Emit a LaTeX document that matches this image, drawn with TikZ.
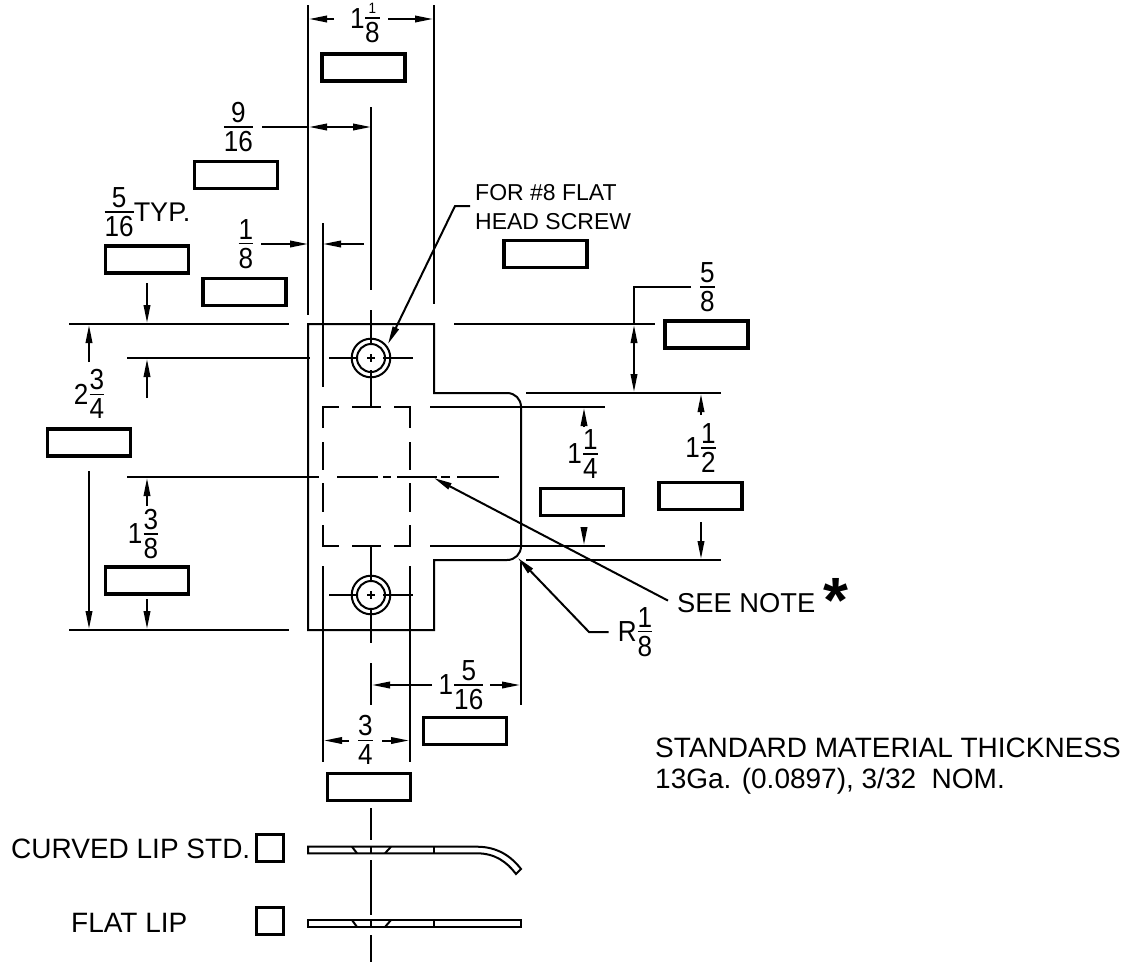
\documentclass[tikz,border=0pt]{standalone}
\usepackage{fontspec}
\setmainfont{Liberation Sans}
\newfontfamily\dimfont[FakeStretch=0.9]{Liberation Sans}
\usetikzlibrary{arrows.meta}
\tikzstyle{blank} = [rectangle, draw=black, line width=3.4pt, minimum width=83pt, minimum height=27pt, inner sep=0pt]
\tikzstyle{tickbox} = [rectangle, draw=black, line width=3.4pt, minimum width=27pt, minimum height=27pt, inner sep=0pt]
\tikzstyle{dimtext} = [inner sep=0pt, font=\fontsize{29}{29}\selectfont\dimfont]
\tikzstyle{plaintext} = [inner sep=0pt, anchor=base west, font=\fontsize{28}{28}\selectfont]
\tikzstyle{smalltext} = [inner sep=0pt, anchor=base west, font=\fontsize{23}{23}\selectfont]
\tikzstyle{line} = [line width=2pt]
\tikzstyle{arrow} = [line width=2pt, -{Triangle[length=18pt,width=6.5pt]}]
\tikzstyle{bothways} = [line width=2pt, {Triangle[length=18pt,width=6.5pt]}-{Triangle[length=18pt,width=6.5pt]}]
\newcommand{\ffrac}[3][]{$\vcenter{\hbox{#1}}\kern1pt\vcenter{\offinterlineskip\halign{\hfil##\hfil\cr\mbox{#2}\cr\noalign{\kern3.5pt\hrule height 1.5pt\kern3.5pt}\mbox{#3}\cr}}$}
\begin{document}
\begin{tikzpicture}[x=1pt, y=-1pt]
\useasboundingbox (0,0) rectangle (1136,962);

% plate
\draw [line] (308,324) -- (434,324) -- (434,393) -- (507,393) .. controls (515,393) and (521,399) .. (521,407) -- (521,546) .. controls (521,554) and (515,560) .. (507,560) -- (434,560) -- (434,630) -- (308,630) -- cycle;

% holes
\draw [line] (371,358) circle (19.3pt);
\draw [line] (371,358) circle (14pt);
\draw [line] (329,358) -- (357,358);
\draw [line] (383,358) -- (413,358);
\draw [line] (367,358) -- (375,358);
\draw [line] (371,354) -- (371,362);
\draw [line] (371,310) -- (371,345);
\draw [line] (371,370) -- (371,407);
\draw [line] (371,595) circle (19.3pt);
\draw [line] (371,595) circle (14pt);
\draw [line] (329,595) -- (357,595);
\draw [line] (383,595) -- (413,595);
\draw [line] (367,595) -- (375,595);
\draw [line] (371,591) -- (371,599);
\draw [line] (371,546) -- (371,582);
\draw [line] (371,608) -- (371,643);

% hidden square
\draw [line] (323,428) -- (323,407) -- (339,407);
\draw [line] (352,407) -- (381,407);
\draw [line] (394,407) -- (410,407) -- (410,428);
\draw [line] (323,442) -- (323,470);
\draw [line] (410,442) -- (410,470);
\draw [line] (323,483) -- (323,512);
\draw [line] (410,483) -- (410,512);
\draw [line] (323,525) -- (323,546) -- (339,546);
\draw [line] (352,546) -- (381,546);
\draw [line] (394,546) -- (410,546) -- (410,525);

% centre line
\draw [line] (127,477) -- (319,477);
\draw [line] (337,477) -- (378,477);
\draw [line] (383,477) -- (391,477);
\draw [line] (397,477) -- (437,477);
\draw [line] (441,477) -- (450,477);
\draw [line] (457,477) -- (499,477);

% extension lines
\draw [line] (308,5) -- (308,315);
\draw [line] (434,5) -- (434,304);
\draw [line] (371,107) -- (371,290);
\draw [line] (323,223) -- (323,387);
\draw [line] (323,566) -- (323,762);
\draw [line] (410,566) -- (410,762);
\draw [line] (521,562) -- (521,705);
\draw [line] (371,663) -- (371,705);
\draw [line] (69,324) -- (289,324);
\draw [line] (127,358) -- (310,358);
\draw [line] (69,630) -- (289,630);
\draw [line] (454,324) -- (655,324);
\draw [line] (526,393) -- (721,393);
\draw [line] (430,407) -- (605,407);
\draw [line] (430,546) -- (605,546);
\draw [line] (526,560) -- (721,560);

% dimensions across the top
\node (wholewidth) [dimtext] at (357.5,19) {1};
\node (wholefrac) [dimtext] at (372,23) {\ffrac{\fontsize{15}{15}\selectfont 1}{8}};
\node (wholebox) [blank] at (363.5,67.5) {};
\draw [arrow] (334,19) -- (309,19);
\draw [arrow] (388,19) -- (433,19);
\node (holepos) [dimtext] at (238,127) {\ffrac{9}{16}};
\node (holebox) [blank] at (236,175) {};
\draw [line] (262,127) -- (309,127);
\draw [bothways] (309,127) -- (371,127);
\node (typ) [dimtext] at (147,212) {\ffrac{5}{16}$\vcenter{\hbox{\normalfont\fontsize{27}{27}\selectfont TYP.}}$};
\node (typbox) [blank] at (147,259.5) {};
\node (offset) [dimtext] at (245.5,244) {\ffrac{1}{8}};
\node (offsetbox) [blank] at (244.5,292) {};
\draw [arrow] (261,244) -- (308,244);
\draw [arrow] (364,244) -- (323,244);

% dimensions on the left
\draw [arrow] (147,283) -- (147,323);
\draw [arrow] (147,398) -- (147,359);
\draw [arrow] (89,362) -- (89,325);
\draw [arrow] (89,471) -- (89,629);
\draw [arrow] (147,506) -- (147,478);
\draw [arrow] (147,599) -- (147,629);
\node (height) [dimtext] at (89,394) {\ffrac[2]{3}{4}};
\node (heightbox) [blank] at (89,442.5) {};
\node (lower) [dimtext] at (143,534) {\ffrac[1]{3}{8}};
\node (lowerbox) [blank] at (147,580.5) {};

% dimensions on the right
\node (lip) [dimtext] at (707,287) {\ffrac{5}{8}};
\node (lipbox) [blank] at (706.5,334.5) {};
\draw [line] (691,287) -- (634,287) -- (634,325);
\draw [bothways] (634,325) -- (634,392);
\node (inner) [dimtext] at (582.5,454) {\ffrac[1]{1}{4}};
\node (innerbox) [blank] at (582,502) {};
\draw [arrow] (584,427) -- (584,408);
\draw [arrow] (584,527) -- (584,545);
\node (outer) [dimtext] at (700.5,448) {\ffrac[1]{1}{2}};
\node (outerbox) [blank] at (700.5,496) {};
\draw [arrow] (701,415) -- (701,394);
\draw [arrow] (701,522) -- (701,559);

% dimensions below
\node (reach) [dimtext] at (461,685) {\ffrac[1]{5}{16}};
\node (reachbox) [blank] at (465,731) {};
\draw [arrow] (432,685) -- (372,685);
\draw [arrow] (490,685) -- (520,685);
\node (square) [dimtext] at (365,740) {\ffrac{3}{4}};
\node (squarebox) [blank] at (369,787) {};
\draw [arrow] (349,740.5) -- (324,740.5);
\draw [arrow] (382,740.5) -- (409,740.5);

% notes
\node (screw) [smalltext] at (475,200.5) {FOR \#8 FLAT};
\node (screwb) [smalltext] at (475,229) {HEAD SCREW};
\node (screwbox) [blank] at (545.5,254) {};
\coordinate (screwend) at (470,206);
\draw [line, -{Triangle[length=18pt,width=6.5pt]}] (screwend) -- (455,206) -- (388,344);
\node (seenote) [plaintext, font=\fontsize{27.3}{27.3}\selectfont] at (677,612) {SEE NOTE};
\node (star) [inner sep=0pt, font=\fontsize{64}{64}\selectfont\bfseries] at (835.5,600) {*};
\coordinate (centretip) at (434,478);
\draw [arrow] (seenote.west) ++(-9,-2) -- (centretip);
\node (radius) [dimtext] at (635,632) {\ffrac[R]{1}{8}};
\coordinate (cornertip) at (518,558);
\draw [arrow] (radius.west) ++(-9,0) -- (589,632) -- (cornertip);
\node (material) [plaintext] at (655,757) {STANDARD MATERIAL THICKNESS};
\node (gauge) [plaintext] at (655,788) {13Ga. (0.0897), 3/32\ \ NOM.};

% edge views
\node (curved) [plaintext] at (11,858) {CURVED LIP STD.};
\node (curvedbox) [tickbox] at (270,848) {};
\node (flat) [plaintext] at (71,932) {FLAT LIP};
\node (flatbox) [tickbox] at (270,921) {};
\draw [line] (308,846.7) -- (477,846.7) .. controls (497,846.7) and (511,856) .. (521,869) -- (516,874) .. controls (507,862) and (495,853.3) .. (477,853.3) -- (308,853.3) -- cycle;
\draw [line] (434,846.7) -- (434,853.3);
\draw [line] (352,846.7) -- (357,853.3);
\draw [line] (391,846.7) -- (385,853.3);
\draw [line] (371,846.7) -- (371,853.3);
\draw [line] (308,920) rectangle (521,927);
\draw [line] (434,920) -- (434,927);
\draw [line] (352,920) -- (357,927);
\draw [line] (391,920) -- (385,927);
\draw [line] (371,920) -- (371,927);
\draw [line] (371,808) -- (371,840);
\draw [line] (371,860) -- (371,915);
\draw [line] (371,935) -- (371,962);

\end{tikzpicture}
\end{document}
